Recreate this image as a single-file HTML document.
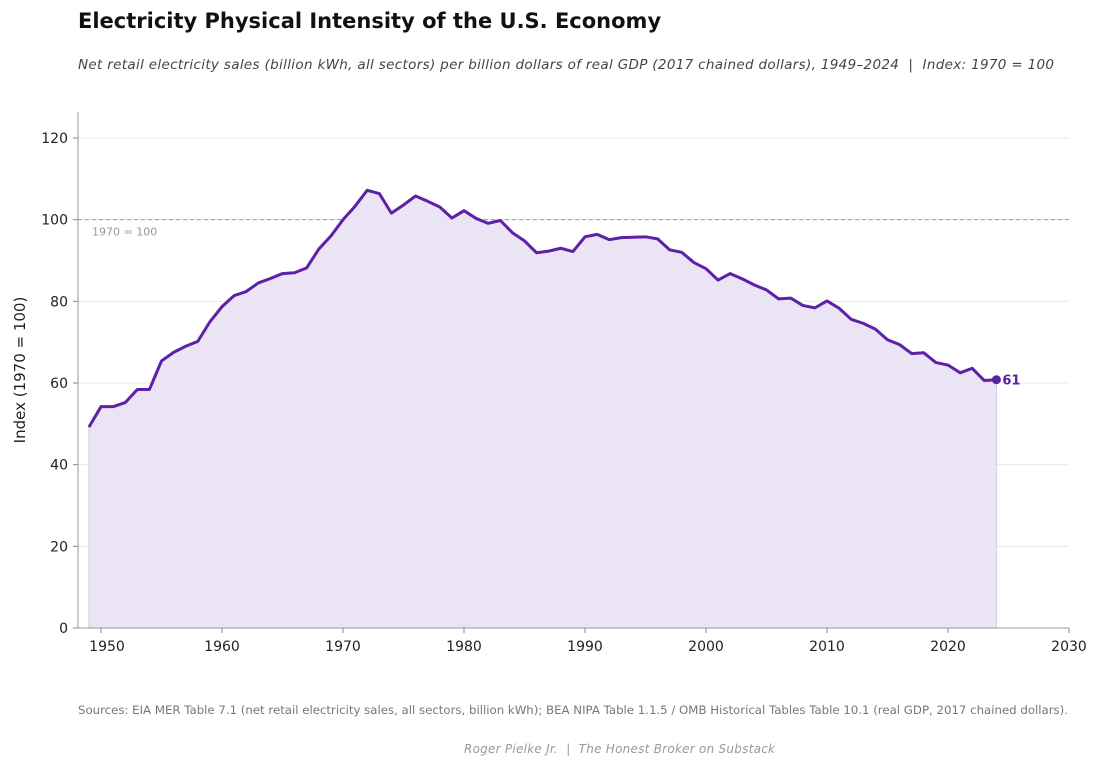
<!DOCTYPE html>
<html><head><meta charset="utf-8"><style>
body{margin:0;background:#fff;width:1100px;height:768px;overflow:hidden;font-family:"DejaVu Sans","Liberation Sans",sans-serif}
svg{position:absolute;left:0;top:0}
text{white-space:pre}
</style></head><body>
<svg id="chart" width="1100" height="768" xml:space="preserve">
<text x="78" y="28" font-size="21" font-weight="bold" fill="#111">Electricity Physical Intensity of the U.S. Economy</text>
<text x="78" y="69" font-size="13.5" font-style="italic" fill="#444" textLength="976" lengthAdjust="spacing">Net retail electricity sales (billion kWh, all sectors) per billion dollars of real GDP (2017 chained dollars), 1949–2024  |  Index: 1970 = 100</text>
<g id="grid"></g><g id="marks"></g><g id="axes"></g>
<text transform="translate(25,370) rotate(-90)" text-anchor="middle" font-size="15" fill="#222">Index (1970 = 100)</text>
<text x="78" y="714" font-size="11.5" fill="#777" textLength="990" lengthAdjust="spacingAndGlyphs">Sources: EIA MER Table 7.1 (net retail electricity sales, all sectors, billion kWh); BEA NIPA Table 1.1.5 / OMB Historical Tables Table 10.1 (real GDP, 2017 chained dollars).</text>
<text x="464" y="753" font-size="12" font-style="italic" fill="#999" textLength="311" lengthAdjust="spacing">Roger Pielke Jr.  |  The Honest Broker on Substack</text>
</svg>
<script>
const years=[];for(let y=1949;y<=2024;y++)years.push(y);
const values=[49.2,54.2,54.2,55.2,58.4,58.4,65.4,67.5,69,70.2,75,78.7,81.4,82.4,84.5,85.6,86.8,87,88.2,92.8,96,100,103.3,107.2,106.4,101.6,103.6,105.8,104.5,103.1,100.4,102.2,100.3,99.1,99.8,96.8,94.8,91.9,92.3,93,92.2,95.8,96.4,95.1,95.6,95.7,95.8,95.3,92.6,92,89.5,88,85.2,86.8,85.5,84,82.8,80.6,80.8,79,78.4,80.1,78.3,75.6,74.6,73.2,70.6,69.4,67.2,67.4,65,64.4,62.5,63.6,60.6,60.8];
const xTicks=[1950,1960,1970,1980,1990,2000,2010,2020,2030];
const yTicks=[0,20,40,60,80,100,120];
const NS="http://www.w3.org/2000/svg";
const X=v=>101+(v-1950)*12.1, Y=v=>628-v*4.0833;
function mk(p,t,a){const e=document.createElementNS(NS,t);for(const k in a)e.setAttribute(k,a[k]);p.appendChild(e);return e;}
const grid=document.getElementById('grid'),marks=document.getElementById('marks'),axes=document.getElementById('axes');
yTicks.forEach(t=>{
 if(t>0){const g=mk(grid,'line',{x1:78,x2:1069,y1:Y(t),y2:Y(t),stroke:'#e4e4e4','stroke-width':0.8});
 }
 mk(axes,'line',{x1:73,x2:78,y1:Y(t),y2:Y(t),stroke:'#888'});
 const l=mk(axes,'text',{x:68,y:Y(t)+5,'text-anchor':'end','font-size':14,fill:'#222'});l.textContent=t;
 
});
xTicks.forEach(t=>{
 mk(axes,'line',{x1:X(t),x2:X(t),y1:628,y2:633,stroke:'#888'});
 const l=mk(axes,'text',{x:X(t)+(t==1950?6:0),y:651,'text-anchor':'middle','font-size':14,fill:'#222'});l.textContent=t;
 
});
const ax=mk(axes,'path',{d:'M78,112V628H1069',fill:'none',stroke:'#999','stroke-width':1});

const ref=mk(marks,'line',{x1:78,x2:1069,y1:Y(100),y2:Y(100),stroke:'#999','stroke-dasharray':'4,3'});

const rl=mk(marks,'text',{x:92,y:Y(100)+16,'font-size':11,fill:'#999'});rl.textContent='1970 = 100';

const pts=years.map((y,i)=>X(y)+','+Y(values[i]));
const area=mk(marks,'path',{d:'M'+X(years[0])+','+Y(0)+'L'+pts.join('L')+'L'+X(years[years.length-1])+','+Y(0)+'Z',fill:'#ebe4f4',stroke:'#d6c8ec'});

const line=mk(marks,'path',{d:'M'+pts.join('L'),fill:'none',stroke:'#5b21a6','stroke-width':3,'stroke-linejoin':'round'});

const n=values.length-1;
const dot=mk(marks,'circle',{cx:X(years[n]),cy:Y(values[n]),r:4.5,fill:'#5b21a6'});

const el=mk(marks,'text',{x:X(years[n])+6,y:Y(values[n])+5,'font-size':13,'font-weight':'bold',fill:'#5b21a6'});el.textContent=Math.round(values[n]);

</script>
</body></html>
